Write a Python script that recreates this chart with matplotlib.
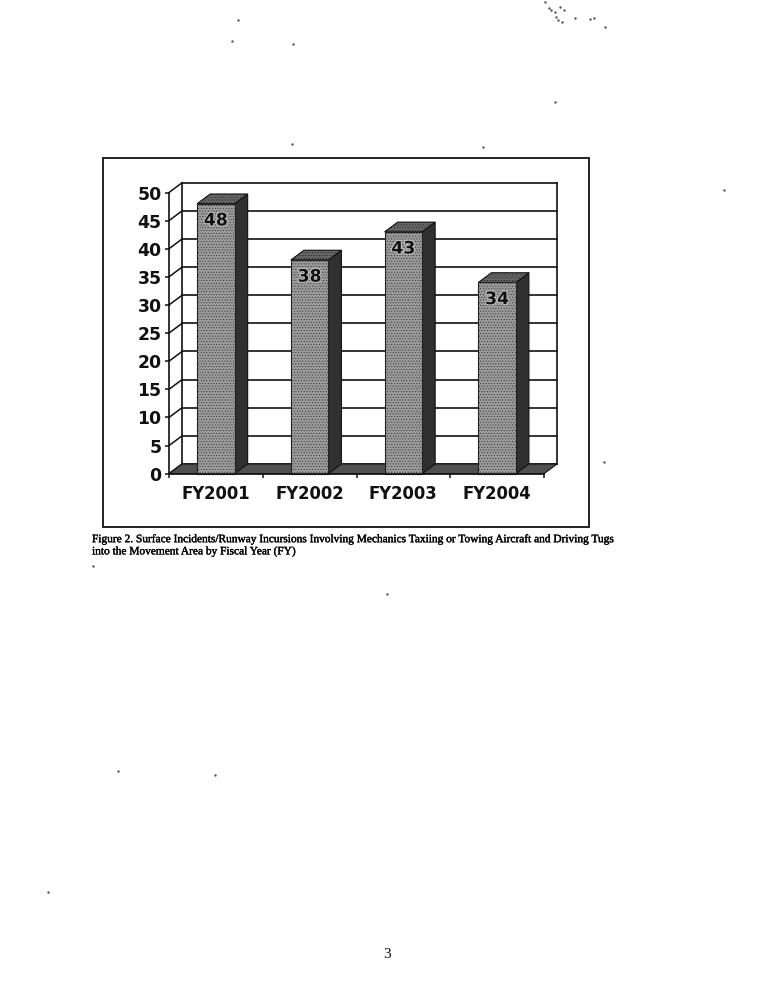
import matplotlib.pyplot as plt
import matplotlib.patheffects as pe
from matplotlib.patches import Polygon, Rectangle

years = ["FY2001", "FY2002", "FY2003", "FY2004"]
incidents = [48, 38, 43, 34]
y_ticks = [0, 5, 10, 15, 20, 25, 30, 35, 40, 45, 50]

caption = ("Figure 2. Surface Incidents/Runway Incursions Involving Mechanics Taxiing or Towing Aircraft and Driving Tugs\n"
           "into the Movement Area by Fiscal Year (FY)")

# scan dirt on the page, pixel positions
specks_x = [238, 292, 232, 293, 483, 604, 93, 118, 215, 387, 48, 555, 724,
            545, 549, 551, 555, 556, 558, 562, 560, 564, 575, 590, 594, 605]
specks_y = [20, 144, 41, 44, 147, 462, 566, 771, 775, 594, 892, 102, 190,
            2, 8, 10, 12, 17, 20, 22, 7, 10, 18, 19, 18, 27]

W, H = 774, 1000
bar_width = 0.4
depth_x = 0.139  # 3d offset in data units
depth_y = 1.73

plt.rcParams["hatch.linewidth"] = 0.3

fig = plt.figure(figsize=(W / 100, H / 100), dpi=100, facecolor="white")

# page layer in pixels, for the box round the chart and the dirt
page = fig.add_axes([0, 0, 1, 1], zorder=0)
page.set_xlim(0, W)
page.set_ylim(H, 0)
page.axis("off")
page.add_patch(Rectangle((103, 158), 486, 369, fill=False, edgecolor="#222222", lw=1.4))
page.scatter(specks_x, specks_y, s=3, color="#555555", linewidths=0)

ax = fig.add_axes([169 / W, 1 - 473.7 / H, 375 / W, 281.2 / H], zorder=1)
ax.patch.set_alpha(0)
ax.set_xlim(0, 4)
ax.set_ylim(0, 50)

for s in ["top", "right"]:
    ax.spines[s].set_visible(False)
for s in ["left", "bottom"]:
    ax.spines[s].set_linewidth(1.2)
    ax.spines[s].set_color("#111111")
    ax.spines[s].set_zorder(6)

ax.set_yticks(y_ticks)
ax.set_xticks(range(5))
ax.set_xticklabels([])
ax.set_xticks([i + 0.5 for i in range(4)], labels=years, minor=True)
ax.tick_params(axis="both", which="major", length=3, width=1.1, color="#111111")
ax.tick_params(axis="x", which="minor", length=0, pad=8)
ax.tick_params(axis="y", pad=2.3)
for lab in ax.get_yticklabels():
    lab.set_fontfamily("DejaVu Sans")
    lab.set_fontweight("bold")
    lab.set_fontsize(12.4)
    lab.set_color("#111111")
for lab in ax.get_xticklabels(minor=True):
    lab.set_fontfamily("DejaVu Sans")
    lab.set_fontweight("bold")
    lab.set_fontsize(11.9)
    lab.set_color("#111111")

# back wall and side wall lines
for t in y_ticks:
    ax.plot([0, depth_x], [t, t + depth_y], color="#111111", lw=1.1, clip_on=False, zorder=1)
    ax.plot([depth_x, 4 + depth_x], [t + depth_y, t + depth_y], color="#111111", lw=1.2, clip_on=False, zorder=1)
for x in [depth_x, 4 + depth_x]:
    ax.plot([x, x], [depth_y, 50 + depth_y], color="#111111", lw=1.2, clip_on=False, zorder=1)

# floor
ax.add_patch(Polygon([(0, 0), (4, 0), (4 + depth_x, depth_y), (depth_x, depth_y)], closed=True,
                     facecolor="#505050", edgecolor="#111111", lw=0.8, clip_on=False, zorder=2))

# bars with the 3d side and top
for i, v in enumerate(incidents):
    left = i + 0.5 - bar_width / 2
    right = left + bar_width
    ax.add_patch(Polygon([(right, 0), (right + depth_x, depth_y), (right + depth_x, v + depth_y), (right, v)],
                         closed=True, facecolor="#303030", edgecolor="#111111", lw=0.8, clip_on=False, zorder=3))
    ax.add_patch(Polygon([(left, v), (right, v), (right + depth_x, v + depth_y), (left + depth_x, v + depth_y)],
                         closed=True, facecolor="#666666", edgecolor="#111111", lw=0.8, hatch="......",
                         clip_on=False, zorder=3))
    ax.bar(i + 0.5, v, width=bar_width, color="#9a9a9a", edgecolor="#222222", linewidth=0.8,
           hatch="......", zorder=4, clip_on=False)
    ax.annotate(str(v), xy=(i + 0.5, v), xytext=(0, -12), textcoords="offset points",
                ha="center", va="center", fontsize=12.4, fontweight="bold",
                color="#111111", family="DejaVu Sans", zorder=5,
                path_effects=[pe.withStroke(linewidth=1.5, foreground="#c4c4c4")])

fig.text(92 / W, 1 - 534.5 / H, caption, family="Liberation Serif", fontsize=8.2, va="top", ha="left",
         color="black", linespacing=1.38, path_effects=[pe.withStroke(linewidth=0.25, foreground="black")])
fig.text(387 / W, 1 - 955 / H, "3", family="Liberation Serif", fontsize=11, va="center", ha="center",
         color="#111111")

fig.savefig("out.png", dpi=100)
